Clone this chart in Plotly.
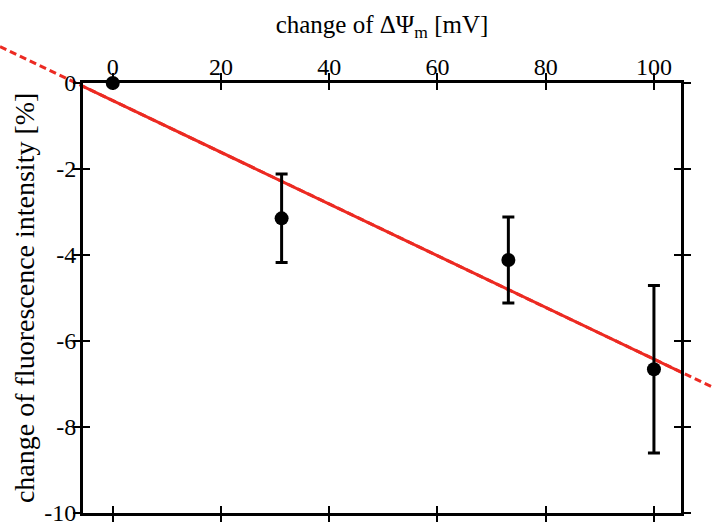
import numpy as np
import plotly.graph_objects as go

# ---- data ----
delta_psi = [0, 31.2, 73.1, 100]          # change of ΔΨm [mV]
fluor_change = [0, -3.15, -4.12, -6.66]    # change of fluorescence intensity [%]
fluor_err = [0, 1.03, 1.0, 1.95]
x_ticks = [0, 20, 40, 60, 80, 100]
x_tick_labels = ["0", "20", "40", "60", "80", "100"]
y_ticks = [0, -2, -4, -6, -8, -10]
y_tick_labels = ["0", "-2", "-4", "-6", "-8", "-10"]
x_range = [-5.5, 105]
y_range = [-10, 0]

# linear fit through the data
slope, intercept = np.polyfit(delta_psi, fluor_change, 1)

W, H = 713, 522
dom_x = [83 / W, 681 / W]
dom_y = [1 - 512.7 / H, 1 - 83 / H]

# full-figure axes with the same scale (for the dashed extension outside the frame)
sx = (x_range[1] - x_range[0]) / (dom_x[1] - dom_x[0])
sy = (y_range[1] - y_range[0]) / (dom_y[1] - dom_y[0])
full_x = [x_range[0] - dom_x[0] * sx, x_range[1] + (1 - dom_x[1]) * sx]
full_y = [y_range[0] - dom_y[0] * sy, y_range[1] + (1 - dom_y[1]) * sy]

fit_x = np.array(full_x)
fit_y = intercept + slope * fit_x

RED = "#ec2a22"
FONT = "Liberation Serif"

fig = go.Figure()

# dashed extension on invisible full-figure axes (drawn first, underneath)
fig.add_trace(go.Scatter(
    x=fit_x.tolist(), y=fit_y.tolist(), xaxis="x", yaxis="y", mode="lines",
    line=dict(color=RED, width=3, dash="7px,4px"), showlegend=False, hoverinfo="skip"))

# solid fit inside the frame
fig.add_trace(go.Scatter(
    x=fit_x.tolist(), y=fit_y.tolist(), xaxis="x2", yaxis="y2", mode="lines",
    line=dict(color=RED, width=3), showlegend=False))

fig.add_trace(go.Scatter(
    x=delta_psi, y=fluor_change, xaxis="x2", yaxis="y2", mode="markers",
    marker=dict(color="black", size=14),
    error_y=dict(type="data", array=fluor_err, visible=True, color="black", thickness=3, width=6),
    cliponaxis=False, showlegend=False))

# invisible trace to activate inside-tick overlay axes
fig.add_trace(go.Scatter(x=[None], y=[None], xaxis="x3", yaxis="y3", showlegend=False, hoverinfo="skip"))

tick_common = dict(ticklen=7, tickwidth=2, tickcolor="black")

fig.update_layout(
    width=W, height=H,
    margin=dict(l=0, r=0, t=0, b=0, pad=0),
    paper_bgcolor="white", plot_bgcolor="rgba(0,0,0,0)",
    font=dict(family=FONT, color="black", size=24),
    xaxis=dict(range=full_x, domain=[0, 1], anchor="y", visible=False, showgrid=False,
               zeroline=False, automargin=False),
    yaxis=dict(range=full_y, domain=[0, 1], anchor="x", visible=False, showgrid=False,
               zeroline=False, automargin=False),
    xaxis2=dict(range=x_range, tickvals=x_ticks, ticktext=x_tick_labels, domain=dom_x, anchor="y2",
                showgrid=False, zeroline=False, automargin=False,
                side="top", showline=True, linecolor="black", linewidth=3,
                mirror="ticks", ticks="outside", **tick_common,
                ticklabelstandoff=-12, ticklabeloverflow="allow",
                tickfont=dict(size=24, family=FONT),
                title=dict(text="change of ΔΨ<sub>m</sub> [mV]", font=dict(size=25, family=FONT), standoff=14)),
    yaxis2=dict(range=y_range, tickvals=y_ticks, ticktext=y_tick_labels, domain=dom_y, anchor="x2",
                showgrid=False, zeroline=False, automargin=False,
                showline=True, linecolor="black", linewidth=3,
                mirror="ticks", ticks="outside", **tick_common,
                ticklabelstandoff=-8, ticklabeloverflow="allow",
                tickfont=dict(size=24, family=FONT),
                title=dict(text="change of fluorescence intensity [%]", font=dict(size=28, family=FONT), standoff=2)),
    xaxis3=dict(range=x_range, tickvals=x_ticks, overlaying="x2", anchor="y3", side="top",
                showgrid=False, zeroline=False, showline=False, mirror="ticks", automargin=False,
                ticks="inside", **tick_common, showticklabels=False),
    yaxis3=dict(range=y_range, tickvals=y_ticks, overlaying="y2", anchor="x3", side="left",
                showgrid=False, zeroline=False, showline=False, mirror="ticks", automargin=False,
                ticks="inside", **tick_common, showticklabels=False),
)

fig.write_html("out.html", config={"displayModeBar": False},
               post_script="document.body.style.margin='0px';")
